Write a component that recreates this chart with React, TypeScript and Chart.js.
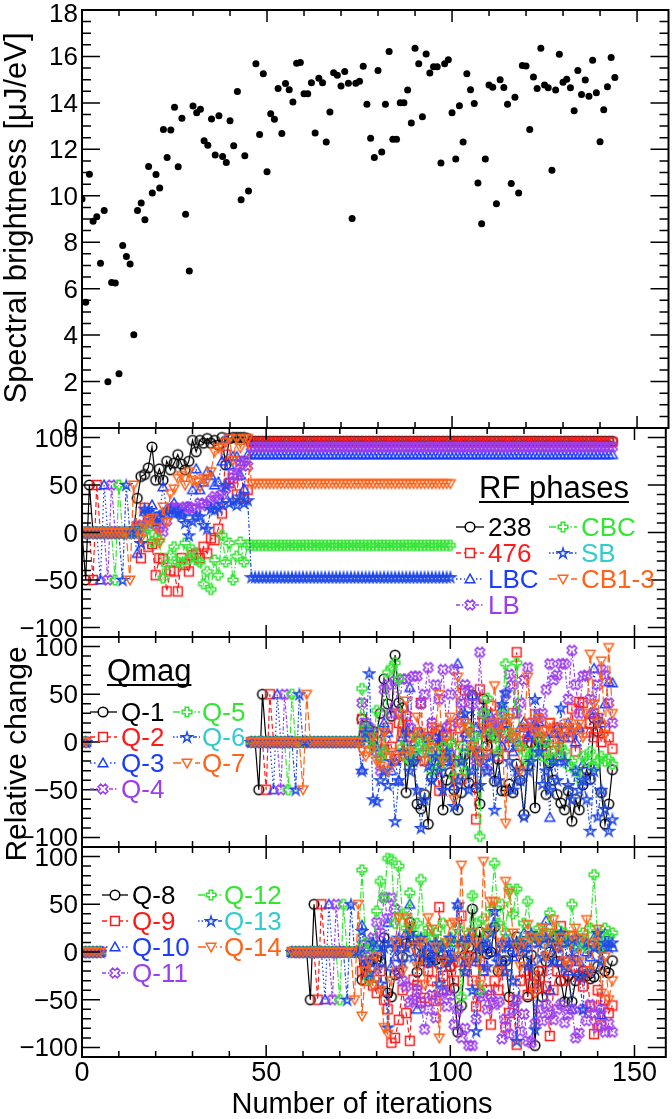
import React, { useEffect, useRef } from "react";
import { Chart, registerables } from "chart.js";

Chart.register(...registerables);

const W = 672;
const H = 1119;
const PLOT_LEFT = 82;
const PLOT_RIGHT = 671;
const FONT = "'Liberation Sans', Arial, Helvetica, sans-serif";

// ---------- axes ----------
const X_MIN = 0;
const X_MAX = 158.5;
const X_TICKS = [0, 50, 100, 150];
const X_MINOR_STEP = 10;
const Y_TICKS_TOP = [0, 2, 4, 6, 8, 10, 12, 14, 16, 18];
const Y_TICKS_REL = [-100, -50, 0, 50, 100];

// ---------- panel 1: spectral brightness (iteration 0..144) ----------
const BRIGHTNESS = [
  9.86, 5.41, 10.93, 8.9, 9.1, 7.09, 9.37, 1.99, 6.27, 6.24,
  2.34, 7.86, 7.39, 7.06, 4.02, 9.37, 9.69, 8.97, 11.26, 10.12,
  10.92, 10.33, 12.85, 11.65, 12.83, 13.81, 11.25, 13.34, 9.2, 6.76,
  13.87, 13.58, 13.73, 12.37, 12.18, 13.31, 11.76, 13.45, 11.69, 11.43,
  13.23, 12.15, 14.49, 9.83, 11.72, 10.21, null, 15.69, 12.64, 15.26,
  11.03, 13.53, 13.3, 14.62, 12.68, 14.83, 14.57, 14.04, 15.71, 15.74,
  14.39, 14.39, 14.87, 12.7, 15.06, 14.87, 12.32, 13.61, 15.3, 15.19,
  14.73, 15.35, 14.85, 9.02, 14.85, 14.93, 15.58, 13.94, 12.48, 11.65,
  15.39, 11.89, 13.94, 16.21, 12.43, 12.43, 14.01, 14.01, 14.55, 13.13,
  16.35, 15.69, 13.4, 16.11, 15.29, 15.56, 15.56, 11.41, 15.69, 15.86,
  13.57, 11.58, 13.88, 12.32, 15.25, 14.57, 13.97, 10.55, 8.8, 11.58,
  14.77, 14.67, 9.66, 15.0, 14.66, 13.94, 10.53, 14.24, 10.12, 15.61,
  15.59, 12.85, 15.12, 14.62, 16.35, 14.77, 14.65, 11.1, 14.56, 16.09,
  14.89, 15.02, 14.65, 13.66, 15.39, 14.36, 14.99, 14.29, 15.84, 14.44,
  12.33, 13.7, 14.69, 15.95, 15.09,
];

// ---------- panel 2: RF phases ----------
// iterations 0..14
const RF_INIT_238 = [0, -50, 50, 0, 0, 0, 0, 0, 0, 0, 0, 0, 0, 0, 0];
const RF_INIT_476 = [0, 0, 0, -50, 50, 0, 0, 0, 0, 0, 0, 0, 0, 0, 0];
const RF_INIT_LBC = [0, 0, 0, 0, 0, -50, 50, 0, 0, 0, 0, 0, 0, 0, 0];
const RF_INIT_LB = [0, 0, 0, 0, 0, 0, 0, -50, 50, 0, 0, 0, 0, 0, 0];
const RF_INIT_CBC = [0, 0, 0, 0, 0, 0, 0, 0, 0, -50, 50, 0, 0, 0, 0];
const RF_INIT_SB = [0, 0, 0, 0, 0, 0, 0, 0, 0, 0, 0, -50, 50, 0, 0];
const RF_INIT_CB13 = [0, 0, 0, 0, 0, 0, 0, 0, 0, 0, 0, 0, 0, -50, 50];
// iterations 15..45
const RF_SCAN_238 = [36, 59, 61, 68, 90, 55, 67, 55, 75, 66, 73, 82, 72, 66, 75, 97, 85, 97, 94, 99, 94, 97, 92, 100, 71, 99, 100, 100, 100, 100, 99];
const RF_SCAN_476 = [5, -27, 26, -15, -12, -45, -27, -28, -62, -40, -41, -62, -27, -34, -41, -24, -22, -27, -15, -22, -6, -8, 4, 20, 82, 52, 57, 40, 75, 36, 45];
const RF_SCAN_LBC = [-22, 5, 22, 18, 29, 13, 18, 48, 25, 25, 31, 25, 20, 22, 27, 45, 67, 45, 53, 64, 60, 50, 53, 75, 99, 71, 80, 80, 60, 46, 82];
const RF_SCAN_LB = [8, 6, 4, 10, 15, 8, 5, 1, 12, 25, 27, 25, 25, 27, 27, 25, 25, 31, 30, 28, 34, 38, 35, 40, 46, 52, 62, 60, 71, 75, 70];
const RF_SCAN_CBC = [2, 4, 1, 4, -10, -6, -8, -48, -34, -24, -15, -31, -32, -11, -28, -18, -29, -31, -54, -41, -60, -29, -45, -3, -31, -11, -50, -25, -10, -31, -13];
const RF_SCAN_SB = [5, -11, 25, 22, 20, 11, 15, 20, 22, 24, 20, 22, 18, 10, -3, 12, 17, 17, 8, 4, 25, 24, 26, 30, 50, 31, 34, 29, 38, 31, 34];
const RF_SCAN_CB13 = [4, -6, 8, 13, 15, 5, -11, 27, 11, 41, 46, 57, 60, 50, 64, 55, 53, 48, 57, 55, 64, 85, 89, 90, 95, 99, 76, 99, 89, 99, 99];
// settled values from iteration 46 up to the last iteration shown
const RF_FINAL = [96, 95, 82, 90, -13.5, -47, 51.5];
const RF_FINAL_END = [144, 144, 144, 144, 100, 100, 100];

// ---------- panel 3: Q-1..Q-7 ----------
const QA_START = [0, 0]; // iterations 0..1
// iterations 46..75
const Q1_BASE = [0, 0, -50, 50, 0, 0, 0, 0, 0, 0, 0, 0, 0, 0, 0, 0, 0, 0, 0, 0, 0, 0, 0, 0, 0, 0, 0, 0, 0, 0];
const Q2_BASE = [0, 0, 0, 0, -50, 50, 0, 0, 0, 0, 0, 0, 0, 0, 0, 0, 0, 0, 0, 0, 0, 0, 0, 0, 0, 0, 0, 0, 0, 0];
const Q3_BASE = [0, 0, 0, 0, 0, 0, -50, 50, 0, 0, 0, 0, 0, 0, 0, 0, 0, 0, 0, 0, 0, 0, 0, 0, 0, 0, 0, 0, 0, 0];
const Q4_BASE = [0, 0, 0, 0, 0, 0, 0, 0, -50, 50, 0, 0, 0, 0, 0, 0, 0, 0, 0, 0, 0, 0, 0, 0, 0, 0, 0, 0, 0, 0];
const Q5_BASE = [0, 0, 0, 0, 0, 0, 0, 0, 0, 0, -50, 50, 0, 0, 0, 0, 0, 0, 0, 0, 0, 0, 0, 0, 0, 0, 0, 0, 0, 0];
const Q6_BASE = [0, 0, 0, 0, 0, 0, 0, 0, 0, 0, 0, 0, -50, 50, 0, 0, 0, 0, 0, 0, 0, 0, 0, 0, 0, 0, 0, 0, 0, 0];
const Q7_BASE = [0, 0, 0, 0, 0, 0, 0, 0, 0, 0, 0, 0, 0, 0, -50, 50, 0, 0, 0, 0, 0, 0, 0, 0, 0, 0, 0, 0, 0, 0];
// iterations 76..144
const Q1_RUN = [
  24, 17, 13, 11, 10, 30, 66, 40, 27, 91,
  41, 36, -53, -20, -20, -65, -70, -55, -86, -37,
  -19, 12, -71, -40, -32, -50, -71, -53, -13, -43,
  49, -48, -65, 45, -4, 6, -41, -18, -51, -51,
  -44, -53, -23, -40, -76, -25, -1, -69, 0, -4,
  -55, -22, -40, -55, -64, -71, -51, -83, -60, -71,
  -45, -29, -39, 25, 11, -53, -86, -65, -29,
];
const Q2_RUN = [
  24, 10, 5, 3, 0, -10, -8, 15, -5, -18,
  20, 10, 27, 5, -15, 10, 41, -20, 5, 15,
  8, -51, -4, 7, 17, -20, 5, -39, 54, 15,
  -10, -81, 55, 20, 10, 38, 5, -15, 20, 10,
  -5, 30, 94, -4, 10, -1, 15, 29, 5, 12,
  -10, 20, 0, 15, -15, 10, 5, 35, -10, 42,
  41, 10, 20, 5, 25, 0, 15, 5, -7,
];
const Q3_RUN = [
  -29, 5, 10, 0, -5, -15, 20, 10, -30, -20,
  -41, 5, 15, 57, 0, -15, 10, -5, 5, -10,
  5, 0, 10, -20, -10, -46, 82, 30, 10, 5,
  49, 15, -10, 10, 25, 27, 10, 15, -4, 20,
  5, -10, 0, 15, 21, 5, 10, 20, 21, 0,
  5, -79, 10, 15, -20, 5, 20, 10, 0, 15,
  -23, -40, 30, 77, 25, 20, 40, 63, 62,
];
const Q4_RUN = [
  41, 20, 15, 10, -10, -30, 55, 60, 30, 64,
  30, 66, 66, 15, 69, 69, 40, 50, 78, 20,
  60, 45, 76, 15, 50, 76, 20, 41, 60, 54,
  40, -20, 94, 31, -30, 20, 15, 25, 35, 50,
  71, 60, 30, 41, 65, 78, 20, 10, 25, 30,
  55, 82, 65, 70, 82, 82, 45, 96, 60, 30,
  69, 70, 45, 30, 60, 76, 70, 41, 20,
];
const Q5_RUN = [
  56, 15, 5, -5, 33, -16, -10, 73, 78, 83,
  66, -5, -15, -20, -10, 5, -5, -10, 0, -30,
  -10, -25, -5, -15, 0, -36, -20, -5, -30, 15,
  -10, 5, -99, 30, 46, 10, 5, -10, 30, 82,
  10, 5, 83, -5, -10, -20, -12, -10, 5, -15,
  0, -20, -10, -15, -5, -10, -25, -20, -30, -39,
  -15, -20, -10, -25, -20, -15, -20, -18, -23,
];
const Q6_RUN = [
  -30, 10, 72, -60, -62, -40, -30, -45, -20, -83,
  -40, -10, 10, -30, -20, -50, -90, -60, -25, -40,
  -15, -30, -50, -10, -20, -67, -40, -20, 30, -50,
  -30, -10, -45, -20, -30, -15, -71, -40, 40, 52,
  -20, -50, -30, -40, -78, -30, -20, 45, -10, -44,
  -30, -50, -20, -40, 36, -20, -45, -60, -30, -50,
  -40, -60, -93, -30, -78, -50, -70, -93, -81,
];
const Q7_RUN = [
  -8, -15, -10, 5, -20, -25, 10, -30, -11, -20,
  30, -15, 43, -10, 5, 26, 10, -20, 5, -6,
  15, 50, -20, 5, 26, -60, 68, 15, 20, 10,
  -5, -10, -20, 15, -12, 20, 59, 10, 20, -85,
  25, 5, 10, -30, 15, 68, 20, 10, 25, 5,
  12, 20, 10, -5, 15, 5, 20, 10, 15, 19,
  5, 30, 92, 40, 20, 85, 8, 99, 30,
];

// ---------- panel 4: Q-8..Q-14 ----------
const QB_START = [0, 0, 0, 0, 0, 0]; // iterations 0..5
// iterations 57..75
const Q8_BASE = [0, 0, 0, 0, 0, -50, 50, 0, 0, 0, 0, 0, 0, 0, 0, 0, 0, 0, 0];
const Q9_BASE = [0, 0, 0, 0, 0, 0, 0, -50, 50, 0, 0, 0, 0, 0, 0, 0, 0, 0, 0];
const Q10_BASE = [0, 0, 0, 0, 0, 0, 0, 0, 0, -50, 50, 0, 0, 0, 0, 0, 0, 0, 0];
const Q11_BASE = [0, 0, 0, 0, 0, 0, 0, 0, 0, 0, 0, -50, 50, 0, 0, 0, 0, 0, 0];
const Q12_BASE = [0, 0, 0, 0, 0, 0, 0, 0, 0, 0, 0, 0, 0, -50, 50, 0, 0, 0, 0];
const Q13_BASE = [0, 0, 0, 0, 0, 0, 0, 0, 0, 0, 0, 0, 0, 0, 0, -50, 50, 0, 0];
const Q14_BASE = [0, 0, 0, 0, 0, 0, 0, 0, 0, 0, 0, 0, 0, 0, 0, 0, 0, -50, 50];
// iterations 76..144
const Q8_RUN = [
  -29, -14, -10, -8, -8, -10, 15, -43, -47, -24,
  -22, -5, 9, 31, 13, -21, 7, -9, -11, -5,
  -8, -12, -3, -10, -15, -38, -84, -56, -3, 5,
  45, -5, 21, 5, -2, 0, 26, -20, -10, -9,
  -47, 0, 16, 9, -10, -47, -3, -98, -20, -47,
  -10, 0, 16, -10, -30, -52, -25, -52, -30, -25,
  -20, -25, -28, -26, -15, 5, -20, -22, -9,
];
const Q9_RUN = [
  -20, -30, -25, -35, -43, -20, -50, -60, -95, -90,
  -71, -40, -64, -93, -29, -35, -53, -48, -20, -30,
  -51, 47, -25, -40, -15, -30, -10, 38, -20, -5,
  -30, -57, -10, -20, -40, -76, -30, -40, -20, -79,
  -64, -50, -97, -30, -20, -45, -33, -25, -38, -20,
  -36, -88, -40, -20, 27, -30, -10, 17, -15, -25,
  -36, -20, -57, -86, -40, -77, -50, -64, -56,
];
const Q10_RUN = [
  28, 5, -24, -10, 5, 0, 10, 31, -15, -5,
  10, 5, 20, 50, 15, -60, 0, -10, 5, -5,
  10, 0, -40, 5, -5, 10, 50, 10, -10, 15,
  20, -10, 5, -20, 10, 0, 31, -5, 10, 15,
  5, -5, 10, 0, 20, 5, -10, 10, 15, 20,
  33, -40, 15, 5, -10, 10, -20, -60, 5, -10,
  10, 0, -5, 15, 5, -66, 20, 10, 5,
];
const Q11_RUN = [
  8, -5, 10, 15, 31, 20, 57, 35, 57, 45,
  -20, -30, -36, -53, -50, -40, -52, -81, -60, -45,
  -69, -50, -40, -57, -45, -76, -60, -90, -80, -98,
  -98, -70, -43, -47, -60, -45, -55, -52, -91, -70,
  -86, -60, -50, -83, -65, -93, -95, -75, -60, -72,
  -55, -65, -71, -60, -55, -74, -65, -60, -90, -85,
  -60, -72, -55, -65, -79, -60, -84, -75, -84,
];
const Q12_RUN = [
  86, 10, -29, 5, 43, 74, 57, 98, 97, 30,
  90, 40, 25, 62, 20, 30, 76, 15, 25, 16,
  20, 5, 30, 10, 15, 9, 25, -47, 10, 20,
  59, 30, -40, 35, 20, 45, 93, 30, 50, 20,
  66, 40, 66, 10, 30, 53, 15, 16, 25, 10,
  20, 41, 15, 25, 16, 20, 10, 50, 15, 5,
  20, 5, 25, 81, 15, 5, 25, 17, 20,
];
const Q13_RUN = [
  22, -10, -22, 10, -15, -33, 5, -79, 10, 5,
  15, -10, 5, 20, -5, 10, 15, -5, 5, -10,
  10, -33, 5, -10, 15, -5, 50, 10, -20, 15,
  -40, -83, 5, 10, -15, 20, 43, -10, 5, -20,
  10, -30, -93, 10, 5, -15, 20, -81, 10, -5,
  15, 10, -10, 5, 20, -15, 10, -5, 15, -25,
  -60, 10, -20, 5, 20, -10, 10, 5, 10,
];
const Q14_RUN = [
  -67, -20, -10, -35, -5, -40, -79, -86, -30, 10,
  36, -20, 36, 26, 5, -15, 10, -34, 36, 24,
  5, -90, -10, 10, 29, 31, -5, 91, 5, -10,
  20, 10, -34, 95, 20, 53, 53, -20, 10, 74,
  62, 20, 5, -15, 10, 29, 15, -43, 14, 25,
  -5, 20, 34, 5, 15, -10, -14, 17, 25, -10,
  15, 34, -20, 10, 24, -43, -5, -50, -30,
];

// ---------- styles ----------
const STYLES: Record<string, any> = {
  black: { color: "#000000", text: "#000000", marker: "circle", dash: [] },
  red: { color: "#ff1a1a", text: "#ff1a1a", marker: "square", dash: [5, 3] },
  blue: { color: "#1a3cff", text: "#1a3cff", marker: "triangle", dash: [1.5, 2.5] },
  purple: { color: "#9a3ef0", text: "#9a3ef0", marker: "xcross", dash: [4, 2, 1.5, 2] },
  green: { color: "#33e633", text: "#33e633", marker: "plus", dash: [7, 2, 1.5, 2] },
  star: { color: "#1f4ae8", text: "#33cccc", marker: "star", dash: [1.5, 2, 1.5, 2, 4, 2] },
  orange: { color: "#ff6219", text: "#ff6219", marker: "triangleDown", dash: [8, 3] },
};
const STYLE_ORDER = ["black", "red", "blue", "purple", "green", "star", "orange"];

function makeMarker(shape: string, color: string): HTMLCanvasElement {
  const S = 14;
  const c = document.createElement("canvas");
  c.width = S;
  c.height = S;
  const g = c.getContext("2d")!;
  g.strokeStyle = color;
  g.lineWidth = 1.5;
  const m = S / 2;
  const r = 4.8;
  g.beginPath();
  if (shape === "circle") {
    g.arc(m, m, r, 0, Math.PI * 2);
  } else if (shape === "square") {
    g.rect(m - r + 0.4, m - r + 0.4, 2 * r - 0.8, 2 * r - 0.8);
  } else if (shape === "triangle") {
    g.moveTo(m, m - r);
    g.lineTo(m + r, m + r * 0.78);
    g.lineTo(m - r, m + r * 0.78);
    g.closePath();
  } else if (shape === "triangleDown") {
    g.moveTo(m, m + r);
    g.lineTo(m + r, m - r * 0.78);
    g.lineTo(m - r, m - r * 0.78);
    g.closePath();
  } else if (shape === "plus" || shape === "xcross") {
    const a = shape === "xcross" ? r * 1.05 : r;
    const w = r * 0.38;
    const pts = [[-w, -a], [w, -a], [w, -w], [a, -w], [a, w], [w, w], [w, a], [-w, a], [-w, w], [-a, w], [-a, -w], [-w, -w]];
    const ang = shape === "xcross" ? Math.PI / 4 : 0;
    pts.forEach(([px, py], i) => {
      const x = m + px * Math.cos(ang) - py * Math.sin(ang);
      const y = m + px * Math.sin(ang) + py * Math.cos(ang);
      if (i === 0) g.moveTo(x, y);
      else g.lineTo(x, y);
    });
    g.closePath();
  } else if (shape === "star") {
    for (let i = 0; i < 10; i++) {
      const rr = i % 2 === 0 ? r + 0.6 : r * 0.42;
      const t = -Math.PI / 2 + (i * Math.PI) / 5;
      const x = m + rr * Math.cos(t);
      const y = m + 0.5 + rr * Math.sin(t);
      if (i === 0) g.moveTo(x, y);
      else g.lineTo(x, y);
    }
    g.closePath();
  }
  g.stroke();
  return c;
}

type Seg = { start: number; values: (number | null)[] };
const hold = (value: number, from: number, to: number) => new Array(to - from + 1).fill(value);

function buildPoints(segs: Seg[]) {
  const out: { x: number; y: number | null }[] = [];
  let prevEnd = -Infinity;
  segs.forEach((s) => {
    if (s.start > prevEnd + 1 && out.length) out.push({ x: (prevEnd + s.start) / 2, y: null });
    s.values.forEach((v, i) => out.push({ x: s.start + i, y: v }));
    prevEnd = s.start + s.values.length - 1;
  });
  return out;
}

const RF_SERIES = [
  { label: "238", init: RF_INIT_238, scan: RF_SCAN_238 },
  { label: "476", init: RF_INIT_476, scan: RF_SCAN_476 },
  { label: "LBC", init: RF_INIT_LBC, scan: RF_SCAN_LBC },
  { label: "LB", init: RF_INIT_LB, scan: RF_SCAN_LB },
  { label: "CBC", init: RF_INIT_CBC, scan: RF_SCAN_CBC },
  { label: "SB", init: RF_INIT_SB, scan: RF_SCAN_SB },
  { label: "CB1-3", init: RF_INIT_CB13, scan: RF_SCAN_CB13 },
];
const QA_SERIES = [
  { label: "Q-1", base: Q1_BASE, run: Q1_RUN },
  { label: "Q-2", base: Q2_BASE, run: Q2_RUN },
  { label: "Q-3", base: Q3_BASE, run: Q3_RUN },
  { label: "Q-4", base: Q4_BASE, run: Q4_RUN },
  { label: "Q-5", base: Q5_BASE, run: Q5_RUN },
  { label: "Q-6", base: Q6_BASE, run: Q6_RUN },
  { label: "Q-7", base: Q7_BASE, run: Q7_RUN },
];
const QB_SERIES = [
  { label: "Q-8", base: Q8_BASE, run: Q8_RUN },
  { label: "Q-9", base: Q9_BASE, run: Q9_RUN },
  { label: "Q-10", base: Q10_BASE, run: Q10_RUN },
  { label: "Q-11", base: Q11_BASE, run: Q11_RUN },
  { label: "Q-12", base: Q12_BASE, run: Q12_RUN },
  { label: "Q-13", base: Q13_BASE, run: Q13_RUN },
  { label: "Q-14", base: Q14_BASE, run: Q14_RUN },
];

const fmt = (v: number) => (v < 0 ? "\u2212" + Math.abs(v) : String(v));

function decorPlugin(cfg: any, markers: Record<string, HTMLCanvasElement>) {
  return {
    id: "decor",
    afterDraw(chart: any) {
      const ctx = chart.ctx;
      const a = chart.chartArea;
      const xs = chart.scales.x;
      const ys = chart.scales.y;
      ctx.save();
      // frame
      ctx.strokeStyle = "#000";
      ctx.lineWidth = 2;
      ctx.strokeRect(a.left, a.top, a.right - a.left, a.bottom - a.top);
      // ticks
      ctx.lineWidth = 1.5;
      ctx.beginPath();
      for (let v = X_MINOR_STEP; v <= X_MAX; v += X_MINOR_STEP) {
        const px = xs.getPixelForValue(v);
        const len = X_TICKS.includes(v) ? 12 : 6;
        ctx.moveTo(px, a.top);
        ctx.lineTo(px, a.top + len);
        ctx.moveTo(px, a.bottom);
        ctx.lineTo(px, a.bottom - len);
      }
      const n = Math.round((cfg.yMax - cfg.yMin) / cfg.yMinor);
      for (let k = 0; k <= n; k++) {
        const v = Math.round((Math.ceil(cfg.yMin / cfg.yMinor) + k) * cfg.yMinor * 100) / 100;
        if (v <= cfg.yMin || v >= cfg.yMax) continue;
        const py = ys.getPixelForValue(v);
        const len = cfg.yTicks.includes(v) ? 18 : 9;
        ctx.moveTo(a.left, py);
        ctx.lineTo(a.left + len, py);
        ctx.moveTo(a.right, py);
        ctx.lineTo(a.right - len, py);
      }
      ctx.stroke();
      // y tick labels
      ctx.fillStyle = "#000";
      ctx.font = `26px ${FONT}`;
      ctx.textAlign = "right";
      ctx.textBaseline = "alphabetic";
      cfg.yTicks.forEach((v: number) => {
        let py = ys.getPixelForValue(v);
        if (v === cfg.yMax && cfg.nudgeTop) py += 3;
        ctx.fillText(fmt(v), a.left - 4, py + 9);
      });
      // x tick labels
      if (cfg.xLabels) {
        ctx.font = `27px ${FONT}`;
        ctx.textAlign = "center";
        X_TICKS.forEach((v) => {
          ctx.fillText(String(v), xs.getPixelForValue(v), 1081);
        });
      }
      // titles
      (cfg.titles || []).forEach((t: any) => {
        ctx.save();
        ctx.font = `${t.size}px ${FONT}`;
        ctx.fillStyle = "#000";
        ctx.textAlign = "center";
        ctx.textBaseline = "alphabetic";
        ctx.translate(t.x, t.y);
        if (t.rotate) ctx.rotate(-Math.PI / 2);
        ctx.fillText(t.text, 0, 0);
        ctx.restore();
      });
      // legend
      if (cfg.legend) {
        const L = cfg.legend;
        if (L.header) {
          ctx.font = `31px ${FONT}`;
          ctx.fillStyle = "#000";
          ctx.textAlign = "left";
          ctx.fillText(L.header.text, L.header.x, L.header.y);
          const w = ctx.measureText(L.header.text).width;
          ctx.lineWidth = 1.8;
          ctx.beginPath();
          ctx.moveTo(L.header.x, L.header.y + 4);
          ctx.lineTo(L.header.x + w, L.header.y + 4);
          ctx.stroke();
        }
        ctx.font = `26px ${FONT}`;
        ctx.textAlign = "left";
        L.items.forEach((it: any) => {
          const st = STYLES[it.style];
          ctx.strokeStyle = st.color;
          ctx.lineWidth = 1.3;
          ctx.setLineDash(st.dash);
          ctx.beginPath();
          ctx.moveTo(it.x0, it.y);
          ctx.lineTo(it.x1, it.y);
          ctx.stroke();
          ctx.setLineDash([]);
          const mk = markers[it.style];
          ctx.clearRect(it.xm - 5, it.y - 5, 10, 10);
          ctx.drawImage(mk, it.xm - mk.width / 2, it.y - mk.height / 2);
          ctx.fillStyle = st.text;
          ctx.fillText(it.text, it.xt, it.y + 9.3);
        });
      }
      ctx.restore();
    },
  };
}

function lineDataset(points: any[], styleKey: string, idx: number, markers: Record<string, HTMLCanvasElement>) {
  const st = STYLES[styleKey];
  return {
    data: points,
    borderColor: st.color,
    backgroundColor: "rgba(0,0,0,0)",
    borderWidth: 1.2,
    borderDash: st.dash,
    pointStyle: markers[styleKey],
    pointRadius: 5,
    pointHoverRadius: 5,
    pointBorderColor: st.color,
    pointBackgroundColor: "rgba(0,0,0,0)",
    showLine: true,
    spanGaps: false,
    tension: 0,
    order: -idx,
  };
}

function legendItems(labels: string[], cols: any[], rows: number[][]) {
  const items: any[] = [];
  labels.forEach((text, i) => {
    const c = i < 4 ? 0 : 1;
    const r = i < 4 ? i : i - 4;
    const col = cols[c];
    items.push({ text, style: STYLE_ORDER[i], x0: col.x0, x1: col.x1, xm: col.xm, xt: col.xt, y: rows[c][r] });
  });
  return items;
}

export default function App() {
  const refs = useRef<(HTMLCanvasElement | null)[]>([]);

  useEffect(() => {
    document.body.style.margin = "0";
    const markers: Record<string, HTMLCanvasElement> = {};
    STYLE_ORDER.forEach((k) => {
      markers[k] = makeMarker(STYLES[k].marker, STYLES[k].color);
    });

    const rfDatasets = RF_SERIES.map((s, i) =>
      lineDataset(
        buildPoints([
          { start: 0, values: s.init },
          { start: 15, values: s.scan },
          { start: 46, values: hold(RF_FINAL[i], 46, RF_FINAL_END[i]) },
        ]),
        STYLE_ORDER[i],
        i,
        markers
      )
    );
    const qaDatasets = QA_SERIES.map((s, i) =>
      lineDataset(
        buildPoints([
          { start: 0, values: QA_START },
          { start: 46, values: s.base },
          { start: 76, values: s.run },
        ]),
        STYLE_ORDER[i],
        i,
        markers
      )
    );
    const qbDatasets = QB_SERIES.map((s, i) =>
      lineDataset(
        buildPoints([
          { start: 0, values: QB_START },
          { start: 57, values: s.base },
          { start: 76, values: s.run },
        ]),
        STYLE_ORDER[i],
        i,
        markers
      )
    );
    const brightDataset = {
      data: BRIGHTNESS.map((v, i) => ({ x: i, y: v })),
      showLine: false,
      pointStyle: "circle",
      pointRadius: 3.5,
      pointHoverRadius: 3.5,
      pointBackgroundColor: "#000",
      pointBorderColor: "#000",
      pointBorderWidth: 0,
      borderColor: "#000",
      backgroundColor: "#000",
    };

    const panels = [
      {
        top: 10, bottom: 428, yMin: 0, yMax: 18, yTicks: Y_TICKS_TOP, yMinor: 0.5, nudgeTop: true,
        datasets: [brightDataset],
        titles: [{ text: "Spectral brightness [\u03bcJ/eV]", x: 26, y: 218, rotate: true, size: 31 }],
      },
      {
        top: 428, bottom: 637, yMin: -110, yMax: 110, yTicks: Y_TICKS_REL, yMinor: 10,
        datasets: rfDatasets,
        legend: {
          header: { text: "RF phases", x: 479, y: 498 },
          items: legendItems(
            RF_SERIES.map((s) => s.label),
            [{ x0: 456, x1: 484, xm: 470, xt: 488 }, { x0: 549, x1: 577, xm: 563, xt: 581 }],
            [[527, 553, 579, 605], [527, 553, 579]]
          ),
        },
      },
      {
        top: 637, bottom: 847, yMin: -110, yMax: 110, yTicks: Y_TICKS_REL, yMinor: 10,
        datasets: qaDatasets,
        titles: [{ text: "Relative change", x: 26, y: 754, rotate: true, size: 30 }],
        legend: {
          header: { text: "Qmag", x: 107, y: 681 },
          items: legendItems(
            QA_SERIES.map((s) => s.label),
            [{ x0: 90, x1: 117, xm: 103, xt: 121 }, { x0: 173, x1: 200, xm: 187, xt: 202 }],
            [[712, 737, 763, 789], [712, 737, 763]]
          ),
        },
      },
      {
        top: 847, bottom: 1057, yMin: -110, yMax: 110, yTicks: Y_TICKS_REL, yMinor: 10, xLabels: true,
        datasets: qbDatasets,
        titles: [{ text: "Number of iterations", x: 362, y: 1113, rotate: false, size: 29 }],
        legend: {
          items: legendItems(
            QB_SERIES.map((s) => s.label),
            [{ x0: 102, x1: 128, xm: 115, xt: 132 }, { x0: 198, x1: 222, xm: 211, xt: 224 }],
            [[895, 921, 947, 973], [895, 921, 947]]
          ),
        },
      },
    ];

    const charts = panels.map((p, i) => {
      const canvas = refs.current[i]!;
      return new Chart(canvas, {
        type: "line",
        data: { datasets: p.datasets as any },
        options: {
          responsive: false,
          maintainAspectRatio: false,
          animation: false,
          events: [],
          layout: { padding: { left: PLOT_LEFT, right: W - PLOT_RIGHT, top: p.top, bottom: H - p.bottom } },
          plugins: { legend: { display: false }, tooltip: { enabled: false }, title: { display: false } },
          scales: {
            x: { type: "linear", min: X_MIN, max: X_MAX, display: false },
            y: { type: "linear", min: p.yMin, max: p.yMax, display: false },
          },
        },
        plugins: [decorPlugin(p, markers)],
      } as any);
    });
    return () => charts.forEach((c) => c.destroy());
  }, []);

  return (
    <div style={{ position: "relative", width: W, height: H, background: "#fff" }}>
      {[0, 1, 2, 3].map((i) => (
        <canvas
          key={i}
          ref={(el) => {
            refs.current[i] = el;
          }}
          width={W}
          height={H}
          style={{ position: "absolute", left: 0, top: 0, width: W, height: H }}
        />
      ))}
    </div>
  );
}
